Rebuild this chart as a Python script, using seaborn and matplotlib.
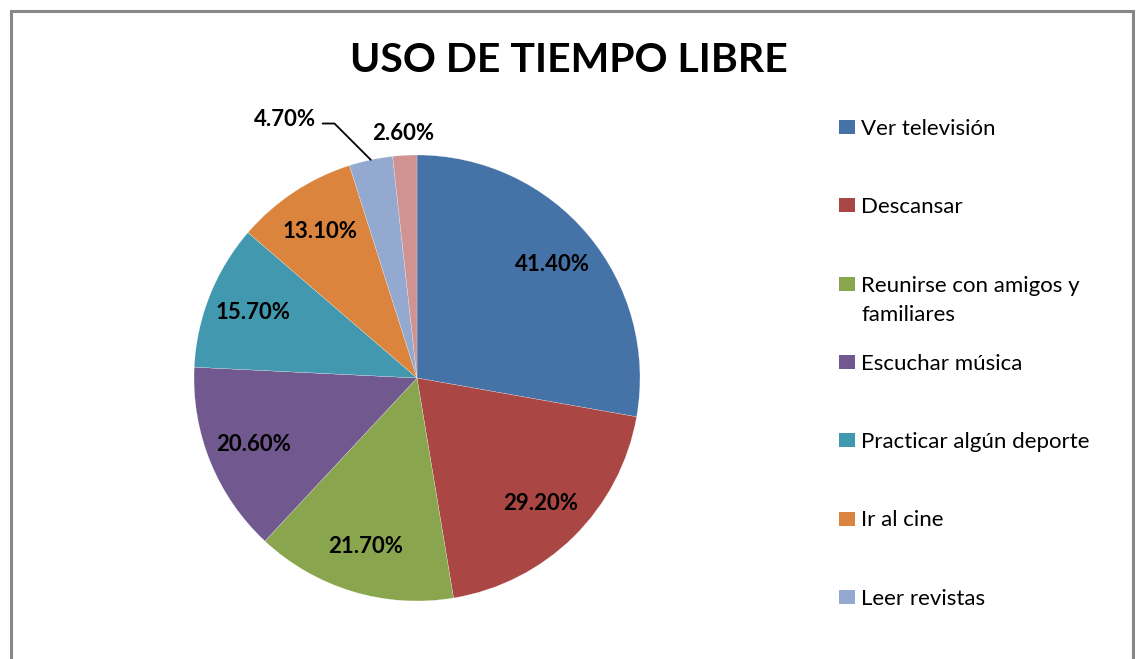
import numpy as np
import matplotlib.pyplot as plt
import seaborn as sns
from matplotlib.patches import Rectangle

# data
categories = ['Ver televisión', 'Descansar', 'Reunirse con amigos y\nfamiliares',
              'Escuchar música', 'Practicar algún deporte', 'Ir al cine',
              'Leer revistas', 'Otros']
values = [41.4, 29.2, 21.7, 20.6, 15.7, 13.1, 4.7, 2.6]
colors = ['#4572A7', '#AA4643', '#89A54E', '#71588F', '#4198AF', '#DB843D',
          '#93A9CF', '#D19392']
legend_count = 7  # last legend entry is cut off in the original

sns.set_theme(style='white')
plt.rcParams['font.family'] = ['Lato', 'DejaVu Sans']

W, H = 1139, 659
fig = plt.figure(figsize=(W / 100, H / 100), dpi=100)

def fx(px):
    return px / W

def fy(py):
    return 1 - py / H

# pie axes: centre (417, 378), radius 223 px
cx, cy, r = 417, 378, 223
ax = fig.add_axes([fx(cx - r), fy(cy + r), 2 * r / W, 2 * r / H])
wedges, _ = ax.pie(values, colors=sns.color_palette(colors), startangle=90,
                   counterclock=False, radius=1,
                   wedgeprops=dict(linewidth=0.15, edgecolor='white'))
ax.set_xlim(-1, 1)
ax.set_ylim(-1, 1)
ax.set_aspect('equal')
ax.axis('off')

lbl_size = 16
for i, (w, v) in enumerate(zip(wedges, values)):
    mid = np.deg2rad((w.theta1 + w.theta2) / 2)
    txt = f'{v:.2f}%'
    if i < 6:
        ax.text(0.79 * np.cos(mid), 0.79 * np.sin(mid), txt, ha='center',
                va='center', fontsize=lbl_size, fontweight='bold', color='black')
    elif i == 6:
        ax.annotate(txt, xy=(np.cos(mid), np.sin(mid)),
                    xytext=(-0.59, 1.16), ha='center', va='center',
                    fontsize=lbl_size, fontweight='bold', color='black',
                    annotation_clip=False,
                    arrowprops=dict(arrowstyle='-', color='black', lw=1.3,
                                    relpos=(1, 0.3), shrinkA=2, shrinkB=0,
                                    connectionstyle='angle,angleA=0,angleB=-45,rad=0'))
    else:
        ax.text(1.1 * np.cos(mid), 1.1 * np.sin(mid), txt, ha='center',
                va='center', fontsize=lbl_size, fontweight='bold', color='black')

# title
fig.text(fx(569), fy(61), 'USO DE TIEMPO LIBRE', ha='center', va='center',
         fontsize=29.5, fontweight='bold', color='black')

# legend (Excel style, equally spaced rows)
for i in range(legend_count):
    yc = 127 + i * 78.3
    fig.patches.append(Rectangle((fx(839), fy(yc + 7)), 16 / W, 14 / H,
                                 transform=fig.transFigure, facecolor=colors[i],
                                 edgecolor='none'))
    for k, line in enumerate(categories[i].split('\n')):
        fig.text(fx(861), fy(yc + 8 + k * 29), line, ha='left', va='baseline',
                 fontsize=16, color='black')

# chart border
fig.patches.append(Rectangle((fx(10.5), -0.05), (1133 - 10.5) / W, fy(10.5) + 0.05,
                             transform=fig.transFigure, facecolor='none',
                             edgecolor='#878787', linewidth=2.2))

fig.savefig('out.png', dpi=100)
